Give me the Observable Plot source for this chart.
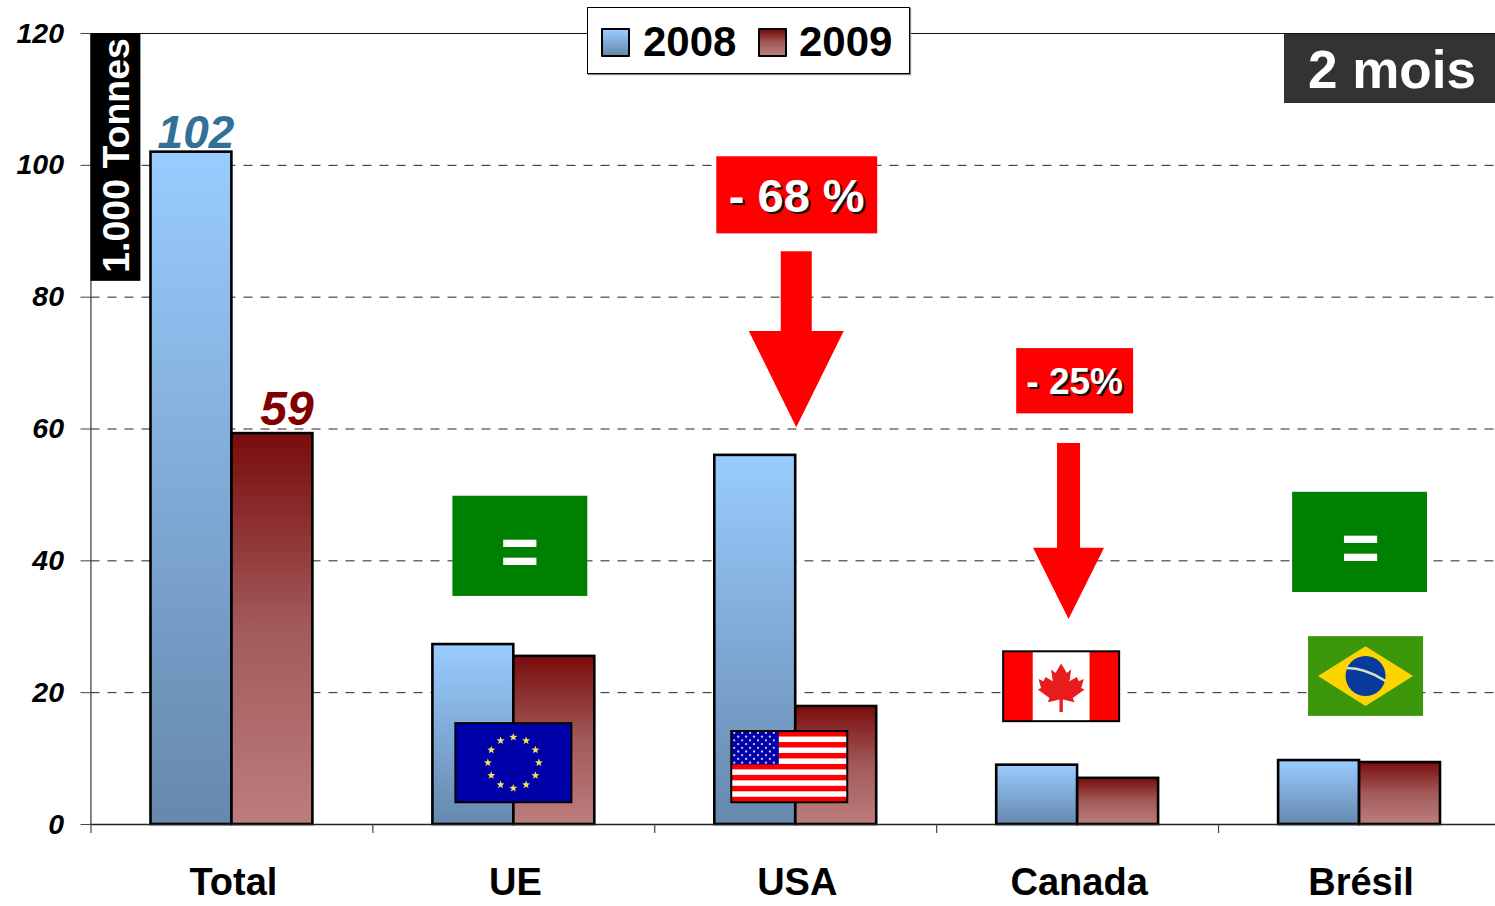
<!DOCTYPE html>
<html lang="fr">
<head>
<meta charset="utf-8">
<title>2 mois</title>
<script src="https://cdn.jsdelivr.net/npm/d3@7"></script>
<script src="https://cdn.jsdelivr.net/npm/@observablehq/plot@0.6"></script>
<style>
html,body{margin:0;padding:0;background:#fff;overflow:hidden}
#wrap{position:relative;width:1495px;height:906px;font-family:"Liberation Sans",Arial,sans-serif;font-weight:bold}
#legend{position:absolute;left:587px;top:7px;width:321px;height:65px;background:#fff;border:1px solid #000;box-shadow:1px 1px 1px #888}
#legend .sw{position:absolute;top:20px;width:25px;height:25px;border:2px solid #000;border-radius:1px}
#legend .lb{position:absolute;top:10px;font-size:42px;line-height:48px;color:#000}
#period{position:absolute;left:1284px;top:34px;width:211px;height:69px;background:#333;color:#fff;font-size:53px;line-height:71px;text-align:center;box-sizing:border-box;padding-left:5px}
</style>
</head>
<body>
<div id="wrap"></div>
<script>
// ---- chart values ----
const categories = ["Total", "UE", "USA", "Canada", "Brésil"];
const values2008 = [102, 27.3, 56, 9, 9.7];
const values2009 = [59.3, 25.5, 17.9, 7, 9.4];
const yTicks = [0, 20, 40, 60, 80, 100, 120];
const gridTicks = [20, 40, 60, 80, 100];
const years = ["2008", "2009"];
const unitLabel = "1.000 Tonnes";
const periodLabel = "2 mois";

// ---- annotation placement (data units vertically, pixels from band centre horizontally) ----
const boxes = [
  {cat: "Total", top: 120, bottom: 82.4, a: -141, b: -91, fill: "#000"},
  {cat: "USA", top: 101.3, bottom: 89.6, a: -79, b: 82, fill: "#f00"},
  {cat: "Canada", top: 72.2, bottom: 62.3, a: -61, b: 56, fill: "#f00"},
  {cat: "UE", top: 49.8, bottom: 34.6, a: -61, b: 74, fill: "#008000"},
  {cat: "Brésil", top: 50.4, bottom: 35.2, a: -67, b: 68, fill: "#008000"}
];
const arrows = [
  {cat: "USA", dx: 1, top: 86.9, neck: 74.8, tip: 60.2, shaft: 15.5, head: 47.5},
  {cat: "Canada", dx: -8.6, top: 57.8, neck: 41.9, tip: 31.1, shaft: 11.5, head: 35.5}
];
const callouts = [
  {cat: "USA", text: "- 68 %", y: 95.2, dx: 1, size: 47},
  {cat: "Canada", text: "- 25%", y: 67.15, dx: -3, size: 37}
];
const equals = [
  {cat: "UE", text: "=", y: 41.1, dx: 6},
  {cat: "Brésil", text: "=", y: 41.7, dx: 1}
];
const flags = [
  {kind: "eu", cat: "UE", top: 15.3, bottom: 3.3, a: -58, b: 58},
  {kind: "us", cat: "USA", top: 14.1, bottom: 3.3, a: -64, b: 52},
  {kind: "ca", cat: "Canada", top: 26.2, bottom: 15.6, a: -74, b: 42},
  {kind: "br", cat: "Brésil", top: 28.5, bottom: 16.4, a: -51, b: 64}
];
const HALF = 141;

const FONT = '"Liberation Sans", Arial, sans-serif';
const rows2008 = categories.map((c, i) => ({cat: c, v: values2008[i]}));
const rows2009 = categories.map((c, i) => ({cat: c, v: values2009[i]}));

function gradientDefs() {
  const defs = d3.create("svg:defs");
  const add = (id, stops) => {
    const g = defs.append("linearGradient").attr("id", id).attr("x1", 0).attr("x2", 0).attr("y1", 0).attr("y2", 1);
    stops.forEach(([o, c]) => g.append("stop").attr("offset", o).attr("stop-color", c));
  };
  add("g2008", [["0%", "#99ccff"], ["100%", "#6688ad"]]);
  add("g2009", [["0%", "#7a0c0c"], ["50%", "#a25a5a"], ["100%", "#bd7d7d"]]);
  return defs.node();
}

function centre(scales, cat) { return scales.x(cat) + scales.x.bandwidth() / 2; }

function arrowMark(index, scales) {
  const g = d3.create("svg:g").attr("fill", "#f00");
  for (const a of arrows) {
    const c = centre(scales, a.cat) + a.dx;
    const t = scales.y(a.top), n = scales.y(a.neck), p = scales.y(a.tip);
    g.append("path").attr("d",
      `M${c - a.shaft},${t}H${c + a.shaft}V${n}H${c + a.head}L${c},${p}L${c - a.head},${n}H${c - a.shaft}Z`);
  }
  return g.node();
}

function star(cx, cy, r) {
  let d = "";
  for (let i = 0; i < 10; i++) {
    const q = -Math.PI / 2 + i * Math.PI / 5, R = i % 2 ? r * 0.42 : r;
    d += (i ? "L" : "M") + (cx + R * Math.cos(q)) + "," + (cy + R * Math.sin(q));
  }
  return d + "Z";
}

const leaf = [[0,-68],[17,-40],[30,-50],[25,-15],[47,-28],[53,-15],[68,-22],[60,5],[70,10],[35,35],[40,48],[5,40],[5,77],[-5,77],[-5,40],[-40,48],[-35,35],[-70,10],[-60,5],[-68,-22],[-53,-15],[-47,-28],[-25,-15],[-30,-50],[-17,-40]];

function flagMark(index, scales) {
  const root = d3.create("svg:g");
  for (const f of flags) {
    const c = centre(scales, f.cat);
    const x0 = c + f.a, x1 = c + f.b, y0 = scales.y(f.top), y1 = scales.y(f.bottom);
    const w = x1 - x0, h = y1 - y0, mx = (x0 + x1) / 2, my = (y0 + y1) / 2;
    const g = root.append("g");
    const rect = (x, y, ww, hh, fill) => g.append("rect").attr("x", x).attr("y", y).attr("width", ww).attr("height", hh).attr("fill", fill);
    if (f.kind === "eu") {
      rect(x0, y0, w, h, "#0000a8");
      for (let i = 0; i < 12; i++) {
        const q = i * Math.PI / 6;
        g.append("path").attr("d", star(mx + 25.5 * Math.cos(q), my + 25.5 * Math.sin(q), 4.2)).attr("fill", "#f2e25a");
      }
    } else if (f.kind === "us") {
      rect(x0, y0, w, h, "#fff");
      for (let i = 0; i < 13; i += 2) rect(x0, y0 + i * h / 13, w, h / 13, "#f00");
      rect(x0, y0, w * 0.41, h * 0.47, "#0000a8");
      for (let r = 0; r < 9; r++) {
        const n = r % 2 ? 5 : 6;
        for (let k = 0; k < n; k++) {
          g.append("circle")
            .attr("cx", x0 + w * 0.41 * ((r % 2 ? 1 : 0) + 2 * k + 0.5) / 12 + 1)
            .attr("cy", y0 + h * 0.47 * (r + 0.5) / 9)
            .attr("r", 1.15).attr("fill", "#c8cdf5");
        }
      }
    } else if (f.kind === "ca") {
      rect(x0, y0, w, h, "#fff");
      rect(x0, y0, w * 0.255, h, "#f00");
      rect(x1 - w * 0.255, y0, w * 0.255, h, "#f00");
      g.append("path").attr("fill", "#e81c1c")
        .attr("d", "M" + leaf.map(p => (mx + p[0] / 3) + "," + (my + p[1] / 3)).join("L") + "Z");
    } else {
      rect(x0, y0, w, h, "#3c960a");
      g.append("path").attr("fill", "#fcd500")
        .attr("d", `M${x0 + 10},${my}L${mx},${y0 + 10}L${x1 - 10},${my}L${mx},${y1 - 10}Z`);
      g.append("circle").attr("cx", mx).attr("cy", my).attr("r", 20).attr("fill", "#0a3a9c");
      g.append("path").attr("d", `M${mx - 19},${my - 8}Q${mx},${my - 8} ${mx + 20},${my + 5}`)
        .attr("fill", "none").attr("stroke", "#cfe3c8").attr("stroke-width", 2.4);
    }
    if (f.kind !== "br") {
      g.append("rect").attr("x", x0).attr("y", y0).attr("width", w).attr("height", h)
        .attr("fill", "none").attr("stroke", "#000").attr("stroke-width", 2);
    }
  }
  return root.node();
}

const barStyle = {stroke: "#000", strokeWidth: 2.6};
const textBase = {fontWeight: "bold", fontFamily: FONT, textAnchor: "middle", lineAnchor: "middle"};

const chart = Plot.plot({
  width: 1495,
  height: 906,
  marginLeft: 90.5,
  marginRight: -5,
  marginTop: 33,
  marginBottom: 82,
  style: {fontFamily: FONT, background: "transparent", color: "#000", overflow: "hidden"},
  x: {domain: categories, range: [90.5, 1500], padding: 0, round: false, label: null},
  y: {domain: [0, 120], range: [824, 33], label: null},
  marks: [
    gradientDefs,
    Plot.ruleY(gridTicks, {stroke: "#222", strokeWidth: 1, strokeDasharray: "9 8"}),
    Plot.ruleY([120], {stroke: "#111", strokeWidth: 1}),
    Plot.barY(rows2008, {x: "cat", y1: () => 0, y2: "v", fill: "url(#g2008)", insetLeft: HALF - 81, insetRight: HALF, ...barStyle}),
    Plot.barY(rows2009, {x: "cat", y1: () => 0, y2: "v", fill: "url(#g2009)", insetLeft: HALF, insetRight: HALF - 81, ...barStyle}),
    Plot.ruleY([0], {stroke: "#222", strokeWidth: 1.4}),
    Plot.ruleX(["Total"], {x: d => d, y1: () => 0, y2: () => 120, dx: -HALF, stroke: "#333", strokeWidth: 1.2}),
    Plot.ruleX(categories, {x: d => d, y1: () => 0, y2: () => 0, dx: -HALF, insetBottom: -9, stroke: "#444", strokeWidth: 1.2}),
    Plot.axisY({ticks: yTicks, tickSize: 10, tickPadding: 17, fontSize: 28.5, fontWeight: "bold", fontStyle: "italic", stroke: "#444", label: null, tickFormat: d3.format("d")}),
    Plot.axisX({tickSize: 0, tickPadding: 44, fontSize: 38, fontWeight: "bold", dx: 1.5, label: null}),
    // labelled boxes
    ...boxes.map(b => Plot.barY([b], {x: "cat", y1: "bottom", y2: "top", fill: "fill", insetLeft: HALF + b.a, insetRight: HALF - b.b})),
    flagMark,
    arrowMark,
    Plot.text([unitLabel], {...textBase, text: d => d, x: () => "Total", y: () => 101.5, dx: -115, rotate: -90, fontSize: 37.5, fill: "#fff"}),
    Plot.text([rows2008[0]], {...textBase, text: d => d3.format(".0f")(d.v), x: "cat", y: "v", dx: -36, dy: -19, fontSize: 46, fontStyle: "italic", fill: "#336f96"}),
    Plot.text([rows2009[0]], {...textBase, text: d => d3.format(".0f")(d.v), x: "cat", y: "v", dx: 55, dy: -24, fontSize: 48, fontStyle: "italic", fill: "#7f0000"}),
    ...callouts.flatMap(c => [
      Plot.text([c], {...textBase, text: "text", x: "cat", y: "y", dx: c.dx + 2, dy: 2, fontSize: c.size, fill: "#111"}),
      Plot.text([c], {...textBase, text: "text", x: "cat", y: "y", dx: c.dx, fontSize: c.size, fill: "#fff"})
    ]),
    ...equals.map(e => Plot.text([e], {...textBase, text: "text", x: "cat", y: "y", dx: e.dx, fontSize: 66, fill: "#fff"}))
  ]
});

const wrap = document.getElementById("wrap");
wrap.append(chart);

const legend = document.createElement("div");
legend.id = "legend";
const grads = {"2008": "linear-gradient(#99ccff,#6688ad)", "2009": "linear-gradient(#7a0c0c,#a25a5a 50%,#bd7d7d)"};
const swLeft = {"2008": 13, "2009": 170}, lbLeft = {"2008": 55, "2009": 211};
for (const y of years) {
  const s = document.createElement("div");
  s.className = "sw"; s.style.left = swLeft[y] + "px"; s.style.background = grads[y];
  const l = document.createElement("div");
  l.className = "lb"; l.style.left = lbLeft[y] + "px"; l.textContent = y;
  legend.append(s, l);
}
wrap.append(legend);
const period = document.createElement("div");
period.id = "period"; period.textContent = periodLabel;
wrap.append(period);
</script>
</body>
</html>
